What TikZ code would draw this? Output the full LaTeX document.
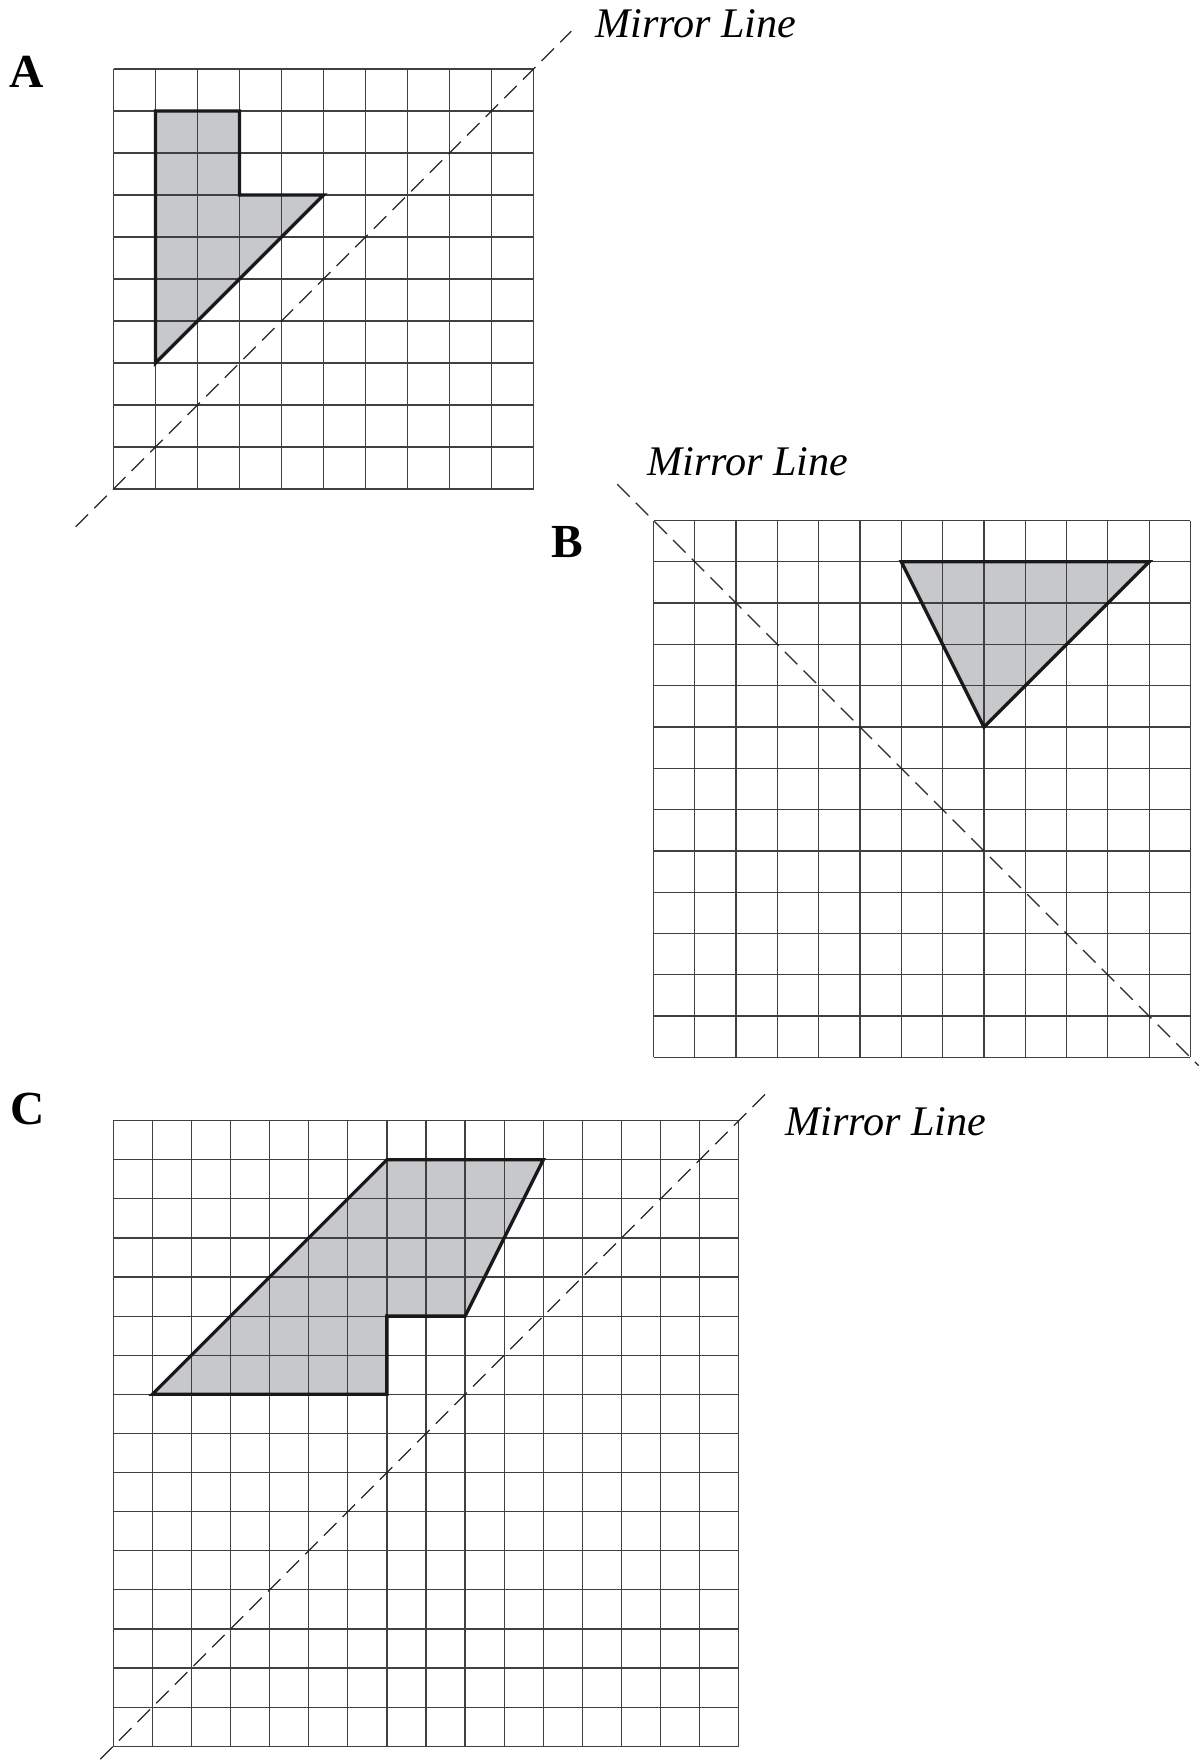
\documentclass[tikz,border=0pt]{standalone}
\usepackage{fontspec}
\setmainfont{Liberation Serif}
\usepackage{tikz}
\usetikzlibrary{calc}
\usepackage{xcolor}
\definecolor{shapegray}{RGB}{199,200,203}

\begin{document}
\begin{tikzpicture}[x=0.02cm, y=0.02cm,
  gridline/.style={black!75, line width=0.7pt},
  figline/.style={black!90, line width=1.9pt, line join=miter, fill=shapegray},
  mirror/.style={black!85, line width=0.7pt, dash pattern=on 10pt off 5pt},
  mirrortext/.style={anchor=base west, inner sep=0pt, font=\fontsize{24}{28}\selectfont\itshape},
  panellabel/.style={anchor=base, inner sep=0pt, font=\fontsize{27}{32}\selectfont\bfseries}]
  \useasboundingbox (0,0) rectangle (1203,-1760);

  % panel A: 10 x 10, cell 42
  \fill[figline] (155.5,-111) -- (239.5,-111) -- (239.5,-195) -- (323.5,-195) -- (155.5,-363) -- cycle;
  \foreach \i in {0,...,10} {
    \draw[gridline] ({113.5+42*\i},-69) -- ({113.5+42*\i},-489);
    \draw[gridline] (113.5,{-69-42*\i}) -- (533.5,{-69-42*\i});
  }
  \draw[figline, fill=none] (155.5,-111) -- (239.5,-111) -- (239.5,-195) -- (323.5,-195) -- (155.5,-363) -- cycle;
  \draw[mirror] (75.7,-526.8) -- (571.3,-31.2);
  \node[panellabel] (labA) at (26.5,-88) {A};
  \node[mirrortext] (mirA) at (595,-37.3) {Mirror Line};

  % panel B: 13 x 13, cell 41.3
  \fill[figline] (901.3,-561.8) -- (1149.1,-561.8) -- (983.9,-727) -- cycle;
  \foreach \i in {0,...,13} {
    \draw[gridline] ({653.5+41.3*\i},-520.5) -- ({653.5+41.3*\i},-1057.4);
    \draw[gridline] (653.5,{-520.5-41.3*\i}) -- (1190.4,{-520.5-41.3*\i});
  }
  \draw[figline, fill=none] (901.3,-561.8) -- (1149.1,-561.8) -- (983.9,-727) -- cycle;
  \draw[mirror] (617.2,-484.2) -- (1198.7,-1065.7);
  \node[panellabel] (labB) at (567,-557) {B};
  \node[mirrortext] (mirB) at (647,-475) {Mirror Line};

  % panel C: 16 x 16, cell 39.1
  \fill[figline] (386.9,-1159.7) -- (543.3,-1159.7) -- (465.1,-1316.1) -- (386.9,-1316.1)
    -- (386.9,-1394.3) -- (152.3,-1394.3) -- cycle;
  \foreach \i in {0,...,16} {
    \draw[gridline] ({113.2+39.1*\i},-1120.6) -- ({113.2+39.1*\i},-1746.2);
    \draw[gridline] (113.2,{-1120.6-39.1*\i}) -- (738.8,{-1120.6-39.1*\i});
  }
  \draw[figline, fill=none] (386.9,-1159.7) -- (543.3,-1159.7) -- (465.1,-1316.1) -- (386.9,-1316.1)
    -- (386.9,-1394.3) -- (152.3,-1394.3) -- cycle;
  \draw[mirror] (100.3,-1759.1) -- (766.2,-1093.2);
  \node[panellabel] (labC) at (28,-1124) {C};
  \node[mirrortext] (mirC) at (785,-1135) {Mirror Line};
\end{tikzpicture}
\end{document}
